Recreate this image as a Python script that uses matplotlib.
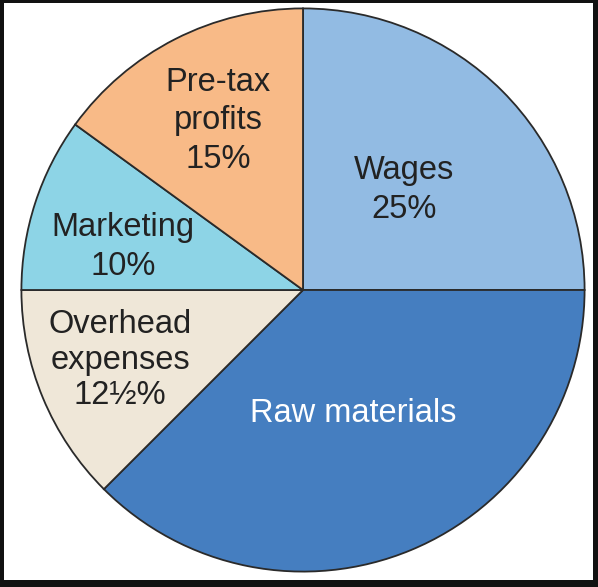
import matplotlib
matplotlib.use("Agg")
import matplotlib.pyplot as plt
from matplotlib.patches import Rectangle

categories = ["Wages", "Raw materials", "Overhead expenses", "Marketing", "Pre-tax profits"]
values = [25, 37.5, 12.5, 10, 15]
labels = ["Wages\n25%", "Raw materials", "Overhead\nexpenses\n12½%", "Marketing\n10%", "Pre-tax\nprofits\n15%"]
colors = ["#92bbe3", "#457ec0", "#efe7d8", "#8dd4e6", "#f8ba87"]
text_colors = ["#222222", "#ffffff", "#222222", "#222222", "#222222"]

W, H = 598, 587
fig = plt.figure(figsize=(W / 100, H / 100), dpi=100, facecolor="#111111")
# white canvas inside dark frame
fig.patches.append(Rectangle((4 / W, 7 / H), (593 - 4) / W, (584 - 7) / H,
                             transform=fig.transFigure, facecolor="white",
                             edgecolor="none", zorder=-5))

cx, cy, r = 303, 290, 283
ax = fig.add_axes([(cx - r) / W, (H - cy - r) / H, 2 * r / W, 2 * r / H])
ax.set_zorder(1)
ax.patch.set_alpha(0)

ax.pie(values, colors=colors, startangle=90, counterclock=False, radius=0.995,
       wedgeprops=dict(edgecolor="#2a2a2a", linewidth=1.3))
ax.set_xlim(-1, 1)
ax.set_ylim(-1, 1)
ax.set_aspect("equal")
ax.axis("off")

# label anchor positions (pixel coords in reference)
pos = [(404, 190), (353, 414), (120, 360), (123, 247), (218, 121)]
spacing = [1.3, 1.3, 1.2, 1.3, 1.3]
for lab, (px, py), tc, ls in zip(labels, pos, text_colors, spacing):
    ax.text((px - cx) / r, (cy - py) / r, lab, ha="center", va="center",
            fontsize=23.5, color=tc, family=["Liberation Sans", "DejaVu Sans"],
            linespacing=ls)

fig.savefig("out.png", dpi=100, facecolor=fig.get_facecolor())
